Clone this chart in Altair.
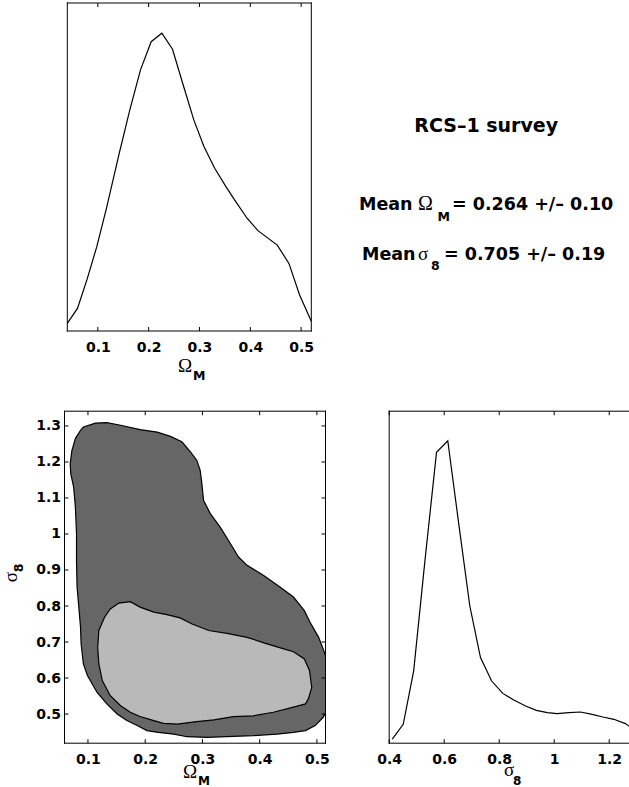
import altair as alt
import pandas as pd

BOLD = "DejaVu Sans"
GREEK = "Liberation Serif"
INK = "black"

# Marginal likelihood of Omega_M (normalised to the panel height)
OMEGA_M = [0.040, 0.060, 0.079, 0.098, 0.117, 0.142, 0.163, 0.184, 0.205, 0.226,
           0.247, 0.268, 0.289, 0.309, 0.330, 0.352, 0.371, 0.394, 0.415, 0.453,
           0.476, 0.497, 0.520]
P_OMEGA = [0.023, 0.069, 0.158, 0.257, 0.374, 0.541, 0.674, 0.796, 0.882, 0.908,
           0.859, 0.750, 0.643, 0.562, 0.496, 0.440, 0.395, 0.343, 0.306, 0.262,
           0.206, 0.110, 0.030]

# Marginal likelihood of sigma_8
SIGMA_8 = [0.411, 0.451, 0.489, 0.530, 0.572, 0.613, 0.653, 0.693, 0.732, 0.772,
           0.813, 0.853, 0.896, 0.935, 0.975, 1.011, 1.053, 1.096, 1.138, 1.177,
           1.217, 1.259, 1.300]
P_SIGMA = [0.012, 0.057, 0.218, 0.550, 0.876, 0.911, 0.660, 0.414, 0.258, 0.188,
           0.150, 0.130, 0.112, 0.099, 0.092, 0.089, 0.092, 0.094, 0.087, 0.079,
           0.072, 0.059, 0.035]

# Joint confidence regions in the (Omega_M, sigma_8) plane
OUTER_OM = [0.092, 0.113, 0.133, 0.157, 0.191, 0.221, 0.244, 0.264, 0.279, 0.290,
            0.296, 0.299, 0.302, 0.314, 0.331, 0.349, 0.363, 0.378, 0.407, 0.436,
            0.459, 0.478, 0.488, 0.503, 0.512, 0.520, 0.520, 0.511, 0.497, 0.480,
            0.459, 0.430, 0.389, 0.354, 0.308, 0.273, 0.250, 0.223, 0.203, 0.186,
            0.168, 0.151, 0.133, 0.116, 0.099, 0.092, 0.088, 0.087, 0.084, 0.081,
            0.080, 0.080, 0.078, 0.075, 0.070, 0.069, 0.072, 0.078, 0.087]
OUTER_S8 = [1.297, 1.308, 1.309, 1.302, 1.290, 1.283, 1.271, 1.256, 1.228, 1.205,
            1.177, 1.140, 1.093, 1.056, 1.019, 0.973, 0.936, 0.913, 0.885, 0.852,
            0.825, 0.787, 0.755, 0.713, 0.676, 0.639, 0.519, 0.491, 0.468, 0.454,
            0.449, 0.444, 0.440, 0.438, 0.435, 0.437, 0.444, 0.449, 0.454, 0.468,
            0.482, 0.500, 0.528, 0.560, 0.607, 0.639, 0.695, 0.741, 0.797, 0.852,
            0.926, 1.001, 1.075, 1.130, 1.167, 1.195, 1.232, 1.265, 1.288]
INNER_OM = [0.154, 0.174, 0.191, 0.215, 0.238, 0.261, 0.282, 0.311, 0.343, 0.378,
            0.413, 0.442, 0.459, 0.478, 0.487, 0.491, 0.485, 0.480, 0.459, 0.424,
            0.389, 0.354, 0.320, 0.290, 0.256, 0.232, 0.212, 0.191, 0.174, 0.157,
            0.139, 0.125, 0.119, 0.117, 0.119, 0.129, 0.139]
INNER_S8 = [0.808, 0.812, 0.797, 0.783, 0.776, 0.767, 0.750, 0.732, 0.724, 0.713,
            0.695, 0.681, 0.673, 0.653, 0.621, 0.574, 0.542, 0.528, 0.519, 0.505,
            0.495, 0.493, 0.484, 0.479, 0.472, 0.474, 0.483, 0.493, 0.505, 0.523,
            0.551, 0.593, 0.639, 0.685, 0.732, 0.769, 0.792]

OM_TICKS = [0.1, 0.2, 0.3, 0.4, 0.5]
S8_TICKS = [0.5, 0.6, 0.7, 0.8, 0.9, 1.0, 1.1, 1.2, 1.3]
S8_TICKS_X = [0.4, 0.6, 0.8, 1.0, 1.2]

SURVEY = "RCS–1 survey"
OM_SUMMARY = "= 0.264 +/– 0.10"
S8_SUMMARY = "= 0.705 +/– 0.19"

TICK = 4
one_row = pd.DataFrame({"k": [0]})


def axis(vals, pad):
    return alt.Axis(values=vals, format="~g", title=None, ticks=False, domain=False,
                    grid=False, labelPadding=pad, labelFlush=False, labelOverlap=False,
                    labelFont=BOLD, labelFontWeight="bold", labelFontSize=14,
                    labelColor=INK)


def rule(**enc):
    return alt.Chart(one_row).mark_rule(color=INK, strokeWidth=1, strokeCap="square").encode(**enc)


def frame(x0, x1, h, right=True):
    sides = [
        rule(x=alt.value(x0), x2=alt.value(x1), y=alt.value(0)),
        rule(x=alt.value(x0), x2=alt.value(x1), y=alt.value(h)),
        rule(x=alt.value(x0), y=alt.value(0), y2=alt.value(h)),
    ]
    if right:
        sides.append(rule(x=alt.value(x1), y=alt.value(0), y2=alt.value(h)))
    return sides


# inward tick marks on the bottom and top edges (they share the panel's x axis)
def x_ticks(vals, scale, ax, h):
    base = alt.Chart(pd.DataFrame({"t": vals})).mark_rule(color=INK, strokeWidth=1)
    x = alt.X("t:Q", scale=scale, axis=ax)
    return [base.encode(x=x, y=alt.value(h), y2=alt.value(h - TICK)),
            base.encode(x=x, y=alt.value(0), y2=alt.value(TICK))]


# inward tick marks on the left and right edges
def y_ticks(vals, scale, ax, x0, x1):
    base = alt.Chart(pd.DataFrame({"t": vals})).mark_rule(color=INK, strokeWidth=1)
    y = alt.Y("t:Q", scale=scale, axis=ax)
    return [base.encode(y=y, x=alt.value(x0), x2=alt.value(x0 + TICK)),
            base.encode(y=y, x=alt.value(x1), x2=alt.value(x1 - TICK))]


def text(s, x, y, size, font=BOLD, weight="bold", align="left", angle=0, baseline="alphabetic"):
    return alt.Chart(one_row).mark_text(
        text=s, font=font, fontSize=size, fontWeight=weight, align=align,
        baseline=baseline, angle=angle, color=INK,
    ).encode(x=alt.value(x), y=alt.value(y))


p_scale = alt.Scale(domain=[0, 1])

# ---- top left: Omega_M marginal ----
TL_W, TL_H = 247, 328
om_top = alt.Scale(domain=[0.04, 0.52], range=[2.8, 246.8])
om_top_axis = axis(OM_TICKS, 9)
tl_curve = alt.Chart(pd.DataFrame({"omega": OMEGA_M, "p": P_OMEGA})).mark_line(
    color=INK, strokeWidth=1.2).encode(
    x=alt.X("omega:Q", scale=om_top, axis=om_top_axis),
    y=alt.Y("p:Q", scale=p_scale, axis=None),
)
TL = alt.layer(
    tl_curve, *frame(2.8, 246.8, TL_H), *x_ticks(OM_TICKS, om_top, om_top_axis, TL_H),
    text("Ω", 120.5, 369, 19, font=GREEK, weight="normal", align="center"),
    text("M", 128.5, 377, 12.5),
).properties(width=TL_W, height=TL_H)

# ---- top right: summary text ----
TXT = alt.layer(
    text(SURVEY, 97, 128.7, 19, align="center"),
    text("Mean", -30.2, 207, 17.5),
    text("Ω", 28.8, 207, 20, font=GREEK, weight="normal"),
    text("M", 48.3, 217.7, 12.5),
    text(OM_SUMMARY, 62.8, 207, 17.5),
    text("Mean", -27.2, 257, 17.5),
    text("σ", 28.8, 257, 19, font=GREEK, weight="normal"),
    text("8", 41.8, 267, 12.5),
    text(S8_SUMMARY, 54.8, 257, 17.5),
).properties(width=240, height=TL_H)

# ---- bottom left: joint confidence regions ----
BL_W, BL_H = 261, 332
om_bl = alt.Scale(domain=[0.059, 0.515])
s8_bl = alt.Scale(domain=[0.419, 1.341])
om_bl_axis = axis(OM_TICKS, 9)
s8_bl_axis = axis(S8_TICKS, 4)


def region(om, s8, shade):
    df = pd.DataFrame({"omega": om, "s8": s8, "i": list(range(len(om)))})
    return alt.Chart(df).mark_line(
        interpolate="linear-closed", fill=shade, color=INK, strokeWidth=1.2, clip=True,
    ).encode(
        x=alt.X("omega:Q", scale=om_bl, axis=om_bl_axis),
        y=alt.Y("s8:Q", scale=s8_bl, axis=s8_bl_axis),
        order=alt.Order("i:Q"),
    )


BL = alt.layer(
    region(OUTER_OM, OUTER_S8, "#666666"),
    region(INNER_OM, INNER_S8, "#b9b9b9"),
    *frame(0, BL_W, BL_H),
    *x_ticks(OM_TICKS, om_bl, om_bl_axis, BL_H),
    *y_ticks(S8_TICKS, s8_bl, s8_bl_axis, 0, BL_W),
    text("Ω", 125.5, 366.3, 19, font=GREEK, weight="normal", align="center"),
    text("M", 133.5, 373.8, 12),
    text("σ", -53.5, 165.8, 19, font=GREEK, weight="normal", align="center",
         angle=270, baseline="middle"),
    text("8", -45.5, 156.8, 12.5, align="center", angle=270, baseline="middle"),
).properties(width=BL_W, height=BL_H)

# ---- bottom right: sigma_8 marginal ----
BR_W, BR_H = 240, 332
s8_br = alt.Scale(domain=[0.4, 1.2727])
s8_br_axis = axis(S8_TICKS_X, 9)
br_curve = alt.Chart(pd.DataFrame({"s8": SIGMA_8, "p": P_SIGMA})).mark_line(
    color=INK, strokeWidth=1.2, clip=True).encode(
    x=alt.X("s8:Q", scale=s8_br, axis=s8_br_axis),
    y=alt.Y("p:Q", scale=p_scale, axis=None),
)
BR = alt.layer(
    br_curve, *frame(0, BR_W, BR_H, right=False),
    *x_ticks(S8_TICKS_X, s8_br, s8_br_axis, BR_H),
    text("σ", 119.8, 364.3, 19, font=GREEK, weight="normal", align="center"),
    text("8", 123.8, 373.8, 12),
).properties(width=BR_W, height=BR_H)

chart = alt.concat(
    TL, TXT, BL, BR, columns=2, bounds="flush", align="all",
    spacing={"row": 76.2, "column": 63.7},
).properties(
    autosize=alt.AutoSizeParams(type="none"),
    padding={"left": 64.5, "top": 3, "right": 564.5, "bottom": 784},
).configure(background="white").configure_view(stroke="transparent")

chart.save("out.html", embed_options={"renderer": "svg", "actions": False})
